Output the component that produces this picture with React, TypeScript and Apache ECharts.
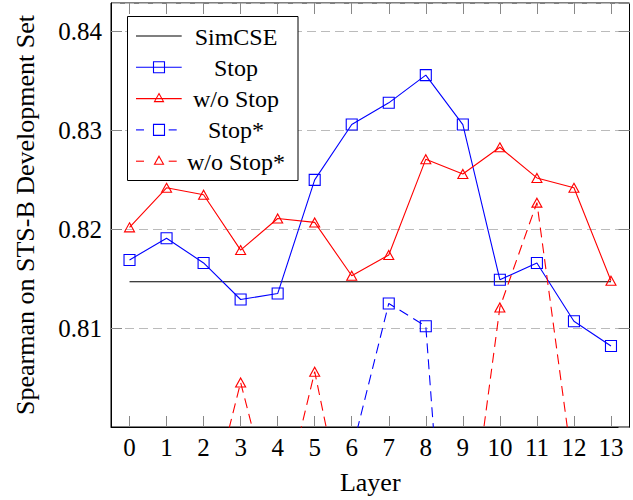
import React, { useEffect, useRef } from "react";
import * as echarts from "echarts";

const layers = ["0", "1", "2", "3", "4", "5", "6", "7", "8", "9", "10", "11", "12", "13"];
const simcse = [0.8147, 0.8147, 0.8147, 0.8147, 0.8147, 0.8147, 0.8147, 0.8147, 0.8147, 0.8147, 0.8147, 0.8147, 0.8147, 0.8147];
const stop = [0.8169, 0.8191, 0.8166, 0.8129, 0.8135, 0.825, 0.8306, 0.8328, 0.8356, 0.8306, 0.8149, 0.8166, 0.8107, 0.8082];
const woStop = [0.8202, 0.8242, 0.8235, 0.8179, 0.8211, 0.8207, 0.8153, 0.8174, 0.8271, 0.8256, 0.8283, 0.8252, 0.8242, 0.8148];
const stopStar = [0.785, 0.788, 0.782, 0.79, 0.786, 0.792, 0.7975, 0.8125, 0.8102, 0.76, 0.77, 0.775, 0.78, 0.772];
const woStopStar = [0.785, 0.788, 0.7896, 0.8045, 0.79, 0.8056, 0.7875, 0.78, 0.782, 0.784, 0.8121, 0.8227, 0.795, 0.788];
const yTicks = [0.81, 0.82, 0.83, 0.84];
const seriesNames = ["SimCSE", "Stop", "w/o Stop", "Stop*", "w/o Stop*"];

const SERIF = "Liberation Serif";
const BLUE = "#0000ff";
const RED = "#ff0000";

export default function App() {
  const ref = useRef<HTMLDivElement>(null);
  useEffect(() => {
    if (!ref.current) return;
    const chart = echarts.init(ref.current, undefined, { renderer: "svg" });
    const tickStyle = { show: true, inside: true, length: 11, lineStyle: { color: "#888", width: 1 } };
    const mk = (name: string, data: number[], color: string, symbol: string, dashed: boolean, size: any) => ({
      name,
      type: "line",
      data,
      symbol,
      symbolSize: size,
      clip: true,
      lineStyle: { color, width: 1.1, type: dashed ? [10, 6] : "solid" },
      itemStyle:
        symbol === "none"
          ? { color: "transparent", borderColor: "transparent", borderWidth: 0 }
          : { color: "transparent", borderColor: color, borderWidth: 1.1 },
      emphasis: { disabled: true },
      z: 3,
    });

    // legend drawn as graphic elements (layout only)
    const legendStyle = [
      { color: "#000", marker: "none", dashed: false },
      { color: BLUE, marker: "rect", dashed: false },
      { color: RED, marker: "triangle", dashed: false },
      { color: BLUE, marker: "rect", dashed: true },
      { color: RED, marker: "triangle", dashed: true },
    ];
    const lx0 = 136, lx1 = 181.7, mx = 159, tx = 236, ry0 = 36, rstep = 31.3;
    const legendEls: any[] = [
      {
        type: "rect",
        shape: { x: 127.5, y: 16.5, width: 170.5, height: 164 },
        style: { fill: "#fff", stroke: "#000", lineWidth: 1 },
        z: 100,
      },
    ];
    seriesNames.forEach((name, i) => {
      const st = legendStyle[i];
      const y = ry0 + rstep * i;
      const ls = { stroke: st.color, lineWidth: 1.1 };
      if (st.dashed) {
        legendEls.push({ type: "line", shape: { x1: lx0, y1: y, x2: lx0 + 8, y2: y }, style: ls, z: 101 });
        legendEls.push({ type: "line", shape: { x1: lx1 - 13, y1: y, x2: lx1 - 5, y2: y }, style: ls, z: 101 });
      } else {
        legendEls.push({ type: "line", shape: { x1: lx0, y1: y, x2: lx1, y2: y }, style: ls, z: 101 });
      }
      if (st.marker === "rect") {
        legendEls.push({
          type: "rect",
          shape: { x: mx - 5.5, y: y - 5.5, width: 11, height: 11 },
          style: { fill: "none", stroke: st.color, lineWidth: 1.1 },
          z: 102,
        });
      } else if (st.marker === "triangle") {
        legendEls.push({
          type: "polygon",
          shape: { points: [[mx, y - 5], [mx + 4.5, y + 3], [mx - 4.5, y + 3]] },
          style: { fill: "none", stroke: st.color, lineWidth: 1.1 },
          z: 102,
        });
      }
      legendEls.push({
        type: "text",
        x: tx,
        y: y + 0.5,
        style: { text: name, font: `24px '${SERIF}', serif`, fill: "#000", align: "center", verticalAlign: "middle" },
        z: 102,
      });
    });

    chart.setOption({
      animation: false,
      textStyle: { fontFamily: SERIF },
      grid: { left: 111, right: 3.5, top: 3, bottom: 67.3, show: true, borderColor: "#000", borderWidth: 1, containLabel: false },
      graphic: { elements: legendEls },
      xAxis: [
        {
          type: "category",
          data: layers,
          boundaryGap: true,
          name: "Layer",
          nameLocation: "middle",
          nameGap: 42,
          nameTextStyle: { fontFamily: SERIF, fontSize: 26, color: "#000" },
          axisLine: { show: true, lineStyle: { color: "#000", width: 1 } },
          axisTick: { ...tickStyle, alignWithLabel: true },
          axisLabel: { fontFamily: SERIF, fontSize: 25, color: "#000", margin: 8 },
          splitLine: { show: false },
        },
        {
          type: "category",
          data: layers,
          position: "top",
          boundaryGap: true,
          axisLine: { show: false },
          axisTick: { ...tickStyle, alignWithLabel: true },
          axisLabel: { show: false },
          splitLine: { show: false },
        },
      ],
      yAxis: [
        {
          type: "value",
          min: 0.8,
          max: 0.8429,
          interval: 0.01,
          name: "Spearman on STS-B Development Set",
          nameLocation: "middle",
          nameGap: 73,
          nameTextStyle: { fontFamily: SERIF, fontSize: 26, color: "#000" },
          axisLine: { show: true, lineStyle: { color: "#000", width: 1 } },
          axisTick: tickStyle,
          axisLabel: {
            fontFamily: SERIF,
            fontSize: 25,
            color: "#000",
            margin: 9,
            showMinLabel: false,
            showMaxLabel: false,
            formatter: (v: number) => {
              const t = yTicks.find((y) => Math.abs(y - v) < 1e-6);
              return t === undefined ? "" : t.toFixed(2);
            },
          },
          splitLine: { show: true, lineStyle: { color: "#bbb", width: 1, type: [9, 5] } },
        },
        {
          type: "value",
          min: 0.8,
          max: 0.8429,
          interval: 0.01,
          position: "right",
          axisLine: { show: false },
          axisTick: tickStyle,
          axisLabel: { show: false },
          splitLine: { show: false },
        },
      ],
      series: [
        mk(seriesNames[0], simcse, "#000", "none", false, 0),
        mk(seriesNames[1], stop, BLUE, "rect", false, 11),
        mk(seriesNames[2], woStop, RED, "triangle", false, [10, 9]),
        mk(seriesNames[3], stopStar, BLUE, "rect", true, 11),
        mk(seriesNames[4], woStopStar, RED, "triangle", true, [10, 9]),
      ],
    });
    return () => chart.dispose();
  }, []);
  return <div ref={ref} style={{ position: "fixed", left: 0, top: 0, width: 633, height: 500, background: "#fff" }} />;
}
